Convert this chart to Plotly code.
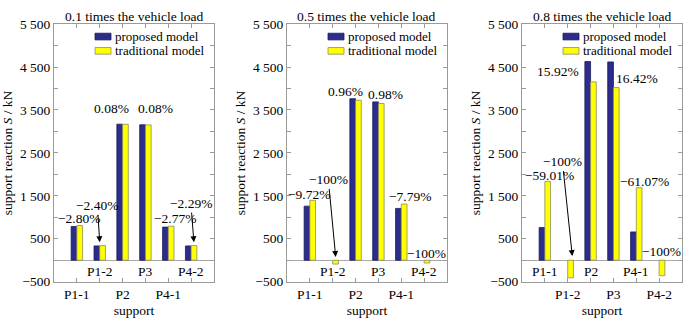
import plotly.graph_objects as go

# ---------------- data ----------------
categories = ["P1-1", "P1-2", "P2", "P3", "P4-1", "P4-2"]
series_names = ["proposed model", "traditional model"]
panel_titles = ["0.1 times the vehicle load", "0.5 times the vehicle load", "0.8 times the vehicle load"]

proposed_01 = [785, 333, 3170, 3155, 771, 333]
traditional_01 = [808, 341, 3167, 3152, 793, 341]
proposed_05 = [1260, 0, 3763, 3689, 1207, 0]
traditional_05 = [1396, -90, 3726, 3651, 1309, -65]
proposed_08 = [760, 0, 4630, 4620, 659, 0]
traditional_08 = [1837, -410, 4156, 4022, 1689, -362]

pct_01 = ["−2.80%", "−2.40%", "0.08%", "0.08%", "−2.77%", "−2.29%"]
pct_05 = ["−9.72%", "−100%", "0.96%", "0.98%", "−7.79%", "−100%"]
pct_08 = ["−59.01%", "−100%", "15.92%", "16.42%", "−61.07%", "−100%"]

ytick_vals = [-500, 0, 500, 1000, 1500, 2000, 2500, 3000, 3500, 4000, 4500, 5000, 5500]
ytick_text = ["−500", "", "500", "", "1 500", "", "2 500", "", "3 500", "", "4 500", "", "5 500"]

# ---------------- layout helpers (positions / styles) ----------------
W, H = 700, 324
domains = [(54, 214), (287, 447), (522, 682)]
pct_pos = [
    [(0.09, 962, None), (0.90, 1267, (1.0, 420)), (1.52, 3533, None), (3.42, 3533, None),
     (4.29, 962, None), (4.99, 1318, (5.12, 420))],
    [(-0.02, 1540, None), (0.81, 1873, (1.13, 75)), (1.54, 3927, None), (3.29, 3851, None),
     (4.37, 1482, None), (5.11, 156, None)],
    [(0.22, 1984, None), (0.77, 2289, (1.2, 96)), (0.59, 4393, None), (4.05, 4244, None),
     (4.38, 1838, None), (5.11, 193, None)],
]
inside_sets = [[1, 3, 5], [1, 3, 5], [0, 2, 4]]

FONT = "Liberation Serif"
FS = 13.5
BLUE = "#2c2c8c"
YELLOW = "#ffff00"
EDGES = ["#1c1c5c", "#8a8a6a"]
COLORS = [BLUE, YELLOW]
FRAME = "#9a9a9a"

proposed = [proposed_01, proposed_05, proposed_08]
traditional = [traditional_01, traditional_05, traditional_08]
pcts = [pct_01, pct_05, pct_08]


def tf(size=FS):
    return dict(family=FONT, size=size, color="black")


fig = go.Figure()
xs = list(range(len(categories)))
annotations = []
shapes = []
for i in range(3):
    xa = "x" if i == 0 else f"x{i+1}"
    ya = "y" if i == 0 else f"y{i+1}"
    for s, vals in enumerate([proposed[i], traditional[i]]):
        fig.add_trace(go.Bar(x=xs, y=[v if v != 0 else None for v in vals], name=series_names[s],
                             xaxis=xa, yaxis=ya, showlegend=False,
                             marker=dict(color=COLORS[s], line=dict(color=EDGES[s], width=0.8))))
    d0, d1 = domains[i]
    inside = inside_sets[i]
    ttext = ["" if k in inside else c for k, c in enumerate(categories)]
    axis_common = dict(showline=True, mirror="ticks", linecolor=FRAME, linewidth=1,
                       ticks="inside", ticklen=4, tickcolor=FRAME, showgrid=False,
                       tickfont=tf())
    xkey = "xaxis" if i == 0 else f"xaxis{i+1}"
    ykey = "yaxis" if i == 0 else f"yaxis{i+1}"
    fig.update_layout(**{
        xkey: dict(domain=[d0 / W, d1 / W], anchor=ya, range=[-1, 6], tickmode="array",
                   tickvals=xs, ticktext=ttext, zeroline=False,
                   title=dict(text="support", font=tf(), standoff=4),
                   **axis_common),
        ykey: dict(domain=[36 / H, 1 - 18 / H], anchor=xa, range=[-500, 5500], tickmode="array",
                   tickvals=ytick_vals, ticktext=ytick_text, zeroline=True,
                   zerolinecolor="#a8a8a8", zerolinewidth=1,
                   title=dict(text="support reaction <i>S</i> / kN", font=tf(), standoff=4),
                   **axis_common),
    })
    # panel title
    annotations.append(dict(text=panel_titles[i], xref="paper", yref="paper",
                            x=(d0 + d1) / 2 / W, y=1 - 10 / H, xanchor="center", yanchor="middle",
                            showarrow=False, font=tf()))
    # legend (drawn)
    for s in range(2):
        cy = 31 + 15 * s
        shapes.append(dict(type="rect", xref="paper", yref="paper",
                           x0=(d0 + 41) / W, x1=(d0 + 57) / W,
                           y0=1 - (cy - 3.5) / H, y1=1 - (cy + 3.5) / H,
                           fillcolor=COLORS[s], line=dict(color=EDGES[s], width=0.8)))
        annotations.append(dict(text=series_names[s], xref="paper", yref="paper",
                                x=(d0 + 59) / W, y=1 - cy / H, xanchor="left", yanchor="middle",
                                showarrow=False, font=tf(13)))
    # inside category labels
    for k in inside:
        annotations.append(dict(text=categories[k], xref=xa, yref=ya, x=k, y=-273,
                                showarrow=False, font=tf()))
    # percentage labels
    for k, txt in enumerate(pcts[i]):
        px_, py_, head = pct_pos[i][k]
        if head is None:
            annotations.append(dict(text=txt, xref=xa, yref=ya, x=px_, y=py_, showarrow=False,
                                    font=tf()))
        else:
            annotations.append(dict(text=txt, xref=xa, yref=ya, x=head[0], y=head[1],
                                    ax=px_, ay=py_, axref=xa, ayref=ya, showarrow=True,
                                    arrowhead=2, arrowsize=1.2, arrowwidth=1, arrowcolor="black",
                                    font=tf()))

fig.update_layout(
    width=W, height=H, margin=dict(l=0, r=0, t=0, b=0),
    paper_bgcolor="white", plot_bgcolor="white",
    barmode="group", bargap=0.5, bargroupgap=0,
    annotations=annotations, shapes=shapes, showlegend=False,
    font=tf(),
)
fig.write_html("out.html")
